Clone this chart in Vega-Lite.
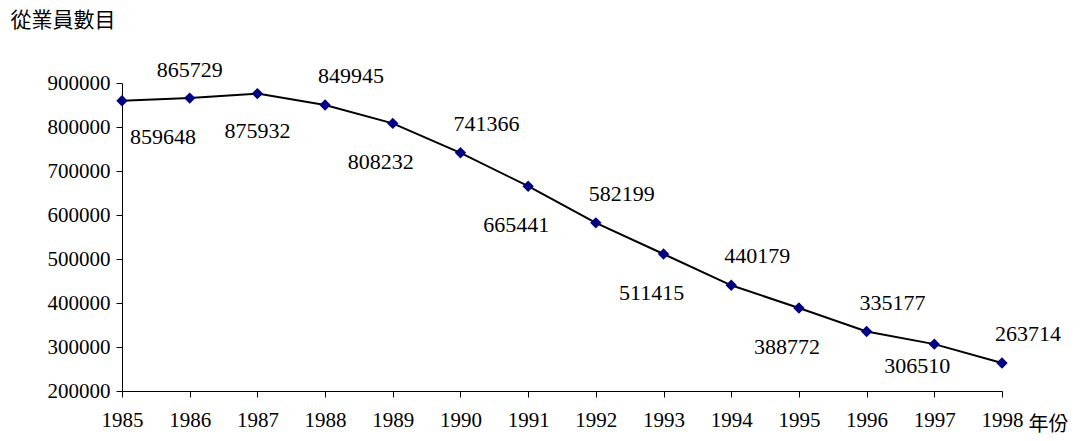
{
  "$schema": "https://vega.github.io/schema/vega-lite/v6.json",
  "width": 880,
  "height": 308,
  "autosize": "none",
  "padding": {"left": 122, "top": 83, "right": 81, "bottom": 50},
  "background": "white",
  "config": {
    "view": {"stroke": null},
    "axis": {"labelFont": "Liberation Serif", "labelFontSize": 21, "labelColor": "black", "domainColor": "black", "tickColor": "black", "grid": false, "titleFontWeight": "normal", "titleColor": "black", "labelOverlap": false, "labelFlush": false, "labelBound": false}
  },
  "data": {"values": [
    {"year": 1985, "v": 859648, "g": "first"},
    {"year": 1986, "v": 865729, "g": "ac"},
    {"year": 1987, "v": 875932, "g": "bc"},
    {"year": 1988, "v": 849945, "g": "ar"},
    {"year": 1989, "v": 808232, "g": "bl"},
    {"year": 1990, "v": 741366, "g": "ar"},
    {"year": 1991, "v": 665441, "g": "bl"},
    {"year": 1992, "v": 582199, "g": "ar"},
    {"year": 1993, "v": 511415, "g": "bl"},
    {"year": 1994, "v": 440179, "g": "ar"},
    {"year": 1995, "v": 388772, "g": "bl"},
    {"year": 1996, "v": 335177, "g": "ar"},
    {"year": 1997, "v": 306510, "g": "bn"},
    {"year": 1998, "v": 263714, "g": "ar"}
  ]},
  "encoding": {
    "x": {"field": "year", "type": "quantitative", "scale": {"domain": [1985, 1998], "nice": false, "zero": false},
      "axis": {"values": [1985,1986,1987,1988,1989,1990,1991,1992,1993,1994,1995,1996,1997,1998], "format": "d", "labelPadding": 12, "tickSize": 6, "labelFont": "Liberation Serif", "labelFontSize": 21, "labelOverlap": false, "labelFlush": false,
        "title": "年份", "titleFont": "Noto Sans CJK TC", "titleFontSize": 20, "titleAnchor": "start", "titleAlign": "left", "titleX": 906, "titleY": 33, "titleBaseline": "middle"}},
    "y": {"field": "v", "type": "quantitative", "scale": {"domain": [200000, 900000], "nice": false, "zero": false},
      "axis": {"values": [200000,300000,400000,500000,600000,700000,800000,900000], "format": "d", "labelPadding": 6, "tickSize": 6, "labelFont": "Liberation Serif", "labelFontSize": 21,
        "title": "從業員數目", "titleFont": "Noto Sans CJK TC", "titleFontSize": 21, "titleAngle": 0, "titleAlign": "left", "titleX": -112, "titleY": -53}}
  },
  "layer": [
    {"mark": {"type": "line", "color": "black", "strokeWidth": 2}},
    {"mark": {"type": "point", "shape": "diamond", "filled": true, "color": "#000080", "size": 130, "opacity": 1}},
    {"transform": [{"filter": "datum.g == 'first'"}], "mark": {"type": "text", "font": "Liberation Serif", "fontSize": 22, "dx": 41, "dy": 36}, "encoding": {"text": {"field": "v"}}},
    {"transform": [{"filter": "datum.g == 'ac'"}], "mark": {"type": "text", "font": "Liberation Serif", "fontSize": 22, "dx": 0, "dy": -28}, "encoding": {"text": {"field": "v"}}},
    {"transform": [{"filter": "datum.g == 'bc'"}], "mark": {"type": "text", "font": "Liberation Serif", "fontSize": 22, "dx": 0, "dy": 37}, "encoding": {"text": {"field": "v"}}},
    {"transform": [{"filter": "datum.g == 'ar'"}], "mark": {"type": "text", "font": "Liberation Serif", "fontSize": 22, "dx": 26, "dy": -29}, "encoding": {"text": {"field": "v"}}},
    {"transform": [{"filter": "datum.g == 'bl'"}], "mark": {"type": "text", "font": "Liberation Serif", "fontSize": 22, "dx": -12, "dy": 39}, "encoding": {"text": {"field": "v"}}},
    {"transform": [{"filter": "datum.g == 'bn'"}], "mark": {"type": "text", "font": "Liberation Serif", "fontSize": 22, "dx": -17, "dy": 22}, "encoding": {"text": {"field": "v"}}}
  ]
}
